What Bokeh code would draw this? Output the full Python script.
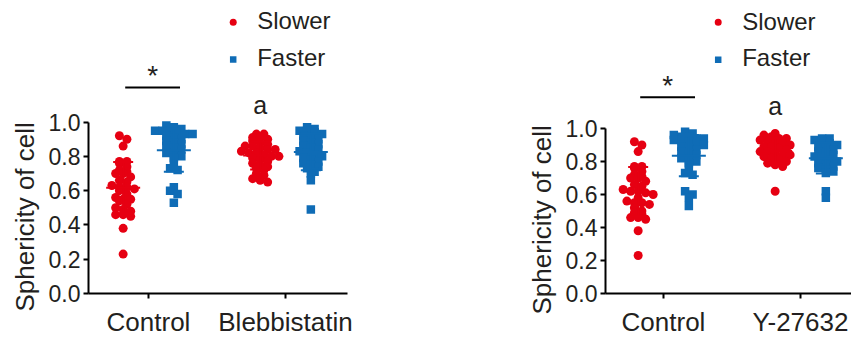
import math
from bokeh.plotting import figure
from bokeh.layouts import row
from bokeh.models import Range1d, FixedTicker, Title
from bokeh.core.properties import value
from bokeh.embed import file_html
from bokeh.resources import INLINE

# ---------------- data ----------------
series = ["Slower", "Faster"]
categories_left = ["Control", "Blebbistatin"]
categories_right = ["Control", "Y-27632"]
y_ticks = [0.0, 0.2, 0.4, 0.6, 0.8, 1.0]
y_title = "Sphericity of cell"

control_slower = [0.92, 0.90, 0.86, 0.77, 0.77, 0.76, 0.74, 0.72, 0.71, 0.70, 0.70,
                  0.68, 0.66, 0.65, 0.63, 0.62, 0.62, 0.61, 0.60, 0.58, 0.56, 0.55,
                  0.55, 0.54, 0.52, 0.50, 0.49, 0.48, 0.46, 0.46, 0.45, 0.38, 0.23]
control_faster = [0.98, 0.97, 0.96, 0.95, 0.95, 0.94, 0.94, 0.93, 0.93, 0.92, 0.91,
                  0.90, 0.89, 0.88, 0.87, 0.86, 0.85, 0.84, 0.82, 0.81, 0.80, 0.79,
                  0.76, 0.73, 0.72, 0.62, 0.60, 0.58, 0.53]
blebbistatin_slower = [0.93, 0.93, 0.91, 0.91, 0.90, 0.89, 0.88, 0.87, 0.86, 0.86, 0.85,
                       0.84, 0.84, 0.83, 0.82, 0.82, 0.81, 0.80, 0.80, 0.79, 0.78, 0.77,
                       0.76, 0.75, 0.74, 0.73, 0.72, 0.70, 0.69, 0.67, 0.66, 0.65]
blebbistatin_faster = [0.97, 0.96, 0.95, 0.95, 0.94, 0.93, 0.92, 0.91, 0.90, 0.89, 0.88,
                       0.87, 0.86, 0.85, 0.84, 0.83, 0.82, 0.81, 0.80, 0.79, 0.78, 0.77,
                       0.76, 0.75, 0.74, 0.73, 0.71, 0.70, 0.66, 0.49]
y27632_slower = [0.97, 0.96, 0.95, 0.94, 0.94, 0.93, 0.92, 0.91, 0.91, 0.90, 0.89,
                 0.89, 0.88, 0.87, 0.86, 0.86, 0.85, 0.84, 0.84, 0.83, 0.82, 0.81,
                 0.80, 0.79, 0.78, 0.77, 0.62]
y27632_faster = [0.94, 0.94, 0.93, 0.92, 0.91, 0.90, 0.89, 0.88, 0.87, 0.86, 0.85,
                 0.84, 0.83, 0.82, 0.81, 0.80, 0.79, 0.78, 0.77, 0.76, 0.75, 0.74,
                 0.73, 0.62, 0.58]

# ---------------- style ----------------
RED = "#E60012"
BLUE = "#0F6CB6"
TEXT = "#231F20"
FONT = "Liberation Sans"
PX_PER_CAT = 137.0
GROUP_OFF = 0.185
ROW_H = 5.5      # px height of a swarm row
COL_W = 7.5      # px horizontal spacing inside a row
TEXT_SHIFT = 10  # empirical baseline correction for text glyphs (px)


def swarm_offsets(vals, px_per_y):
    rows = {}
    for i, v in enumerate(vals):
        rows.setdefault(int(math.floor(v * px_per_y / ROW_H)), []).append(i)
    offs = [0.0] * len(vals)
    for idx in rows.values():
        n = len(idx)
        for k, i in enumerate(idx):
            offs[i] = (k - (n - 1) / 2) * COL_W
    return offs


def mean_sd(vals):
    n = len(vals)
    m = sum(vals) / n
    sd = (sum((v - m) ** 2 for v in vals) / (n - 1)) ** 0.5
    return m, sd


def style_axis(ax, size):
    ax.major_label_text_font = FONT
    ax.major_label_text_font_size = size
    ax.major_label_text_color = TEXT
    ax.minor_tick_line_color = None
    ax.major_tick_out = 5
    ax.major_tick_in = 0
    ax.axis_line_width = 2
    ax.major_tick_line_width = 2
    ax.axis_line_color = "black"
    ax.major_tick_line_color = "black"


def make_panel(cats, groups, geom):
    W, H = geom["width"], 347
    fl, fr = geom["frame_left"], geom["frame_right"]
    y0px, y1px = geom["zero_px"], geom["one_px"]
    tick1 = geom["tick1_px"]
    ppy = y0px - y1px
    x_start = 1 - (tick1 - fl) / PX_PER_CAT
    x_end = 1 + (fr - tick1) / PX_PER_CAT
    y_end = y0px / ppy

    def px2x(px):
        return 1 + (px - tick1) / PX_PER_CAT

    def px2y(py):
        return (y0px - py) / ppy

    p = figure(width=W, height=H, output_backend="svg", toolbar_location=None,
               x_range=Range1d(x_start, x_end), y_range=Range1d(0, y_end))
    p.min_border = 0
    p.min_border_left = fl
    p.min_border_right = W - fr
    p.min_border_top = 0
    p.min_border_bottom = H - y0px
    p.outline_line_color = None
    p.xgrid.visible = False
    p.ygrid.visible = False

    for ci, (slow, fast) in enumerate(groups):
        pos = ci + 1
        for vals, off, color, marker, size in ((slow, -GROUP_OFF, RED, "circle", 9),
                                               (fast, GROUP_OFF, BLUE, "square", 8.5)):
            cx = pos + off
            offs = swarm_offsets(vals, ppy)
            xs = [cx + o / PX_PER_CAT for o in offs]
            p.scatter(xs, vals, marker=marker, size=size, fill_color=color, line_color=None)
            m, sd = mean_sd(vals)
            hw_mean = 17 / PX_PER_CAT
            hw_cap = 10 / PX_PER_CAT
            p.segment([cx, cx - hw_mean, cx - hw_cap, cx - hw_cap],
                      [m - sd, m, m + sd, m - sd],
                      [cx, cx + hw_mean, cx + hw_cap, cx + hw_cap],
                      [m + sd, m, m + sd, m - sd],
                      line_color=color, line_width=2)

    yax = p.yaxis[0]
    yax.ticker = FixedTicker(ticks=y_ticks)
    yax.major_label_overrides = {t: f"{t:.1f}" for t in y_ticks}
    yax.bounds = (0, 1.0)
    yax.major_label_standoff = 3
    style_axis(yax, "23px")

    xax = p.xaxis[0]
    xax.ticker = FixedTicker(ticks=[1, 2])
    xax.major_label_overrides = {1: cats[0], 2: cats[1]}
    xax.major_label_standoff = 8
    style_axis(xax, "26px")

    # y title as a side title, aligned like the original (centred on axis bounds)
    p.add_layout(Title(text=y_title, align="left", offset=geom["title_offset"],
                       text_font=FONT, text_font_size="26px", text_font_style="normal",
                       text_color=TEXT, standoff=12), "left")

    # significance bar and star over Control
    bar_y = px2y(geom["bar_px"])
    p.segment([1 - 0.17], [bar_y], [1 + 0.23], [bar_y], line_color="black", line_width=2)
    p.text([1.03], [px2y(geom["bar_px"] - 2 - TEXT_SHIFT)], text=["*"], text_font=value(FONT),
           text_font_size="28px", text_color=TEXT, text_align="center",
           text_baseline="alphabetic")
    p.text([2 - GROUP_OFF], [px2y(115 - TEXT_SHIFT)], text=["a"], text_font=value(FONT),
           text_font_size="25px", text_color=TEXT, text_align="center",
           text_baseline="alphabetic")

    # legend
    lx = px2x(geom["legend_px"])
    tx = px2x(geom["legend_px"] + 24)
    p.scatter([lx], [px2y(21.7)], marker="circle", size=7, fill_color=RED, line_color=None)
    p.scatter([lx], [px2y(59.3)], marker="square", size=6.5, fill_color=BLUE, line_color=None)
    p.text([tx, tx], [px2y(30.5 - TEXT_SHIFT), px2y(66.7 - TEXT_SHIFT)], text=series,
           text_font=value(FONT), text_font_size="24px", text_color=TEXT,
           text_align="left", text_baseline="alphabetic")
    return p


left_geom = dict(width=425, frame_left=88, frame_right=347, zero_px=294, one_px=122,
                 tick1_px=148, bar_px=87.3, legend_px=232.7, title_offset=-18)
right_geom = dict(width=426, frame_left=180, frame_right=426, zero_px=293, one_px=128,
                  tick1_px=238, bar_px=96.7, legend_px=292.7, title_offset=-21)

p1 = make_panel(categories_left, [(control_slower, control_faster),
                                  (blebbistatin_slower, blebbistatin_faster)], left_geom)
p2 = make_panel(categories_right, [(control_slower, control_faster),
                                   (y27632_slower, y27632_faster)], right_geom)

layout = row(p1, p2, spacing=0)
open("out.html", "w").write(file_html(layout, INLINE))
